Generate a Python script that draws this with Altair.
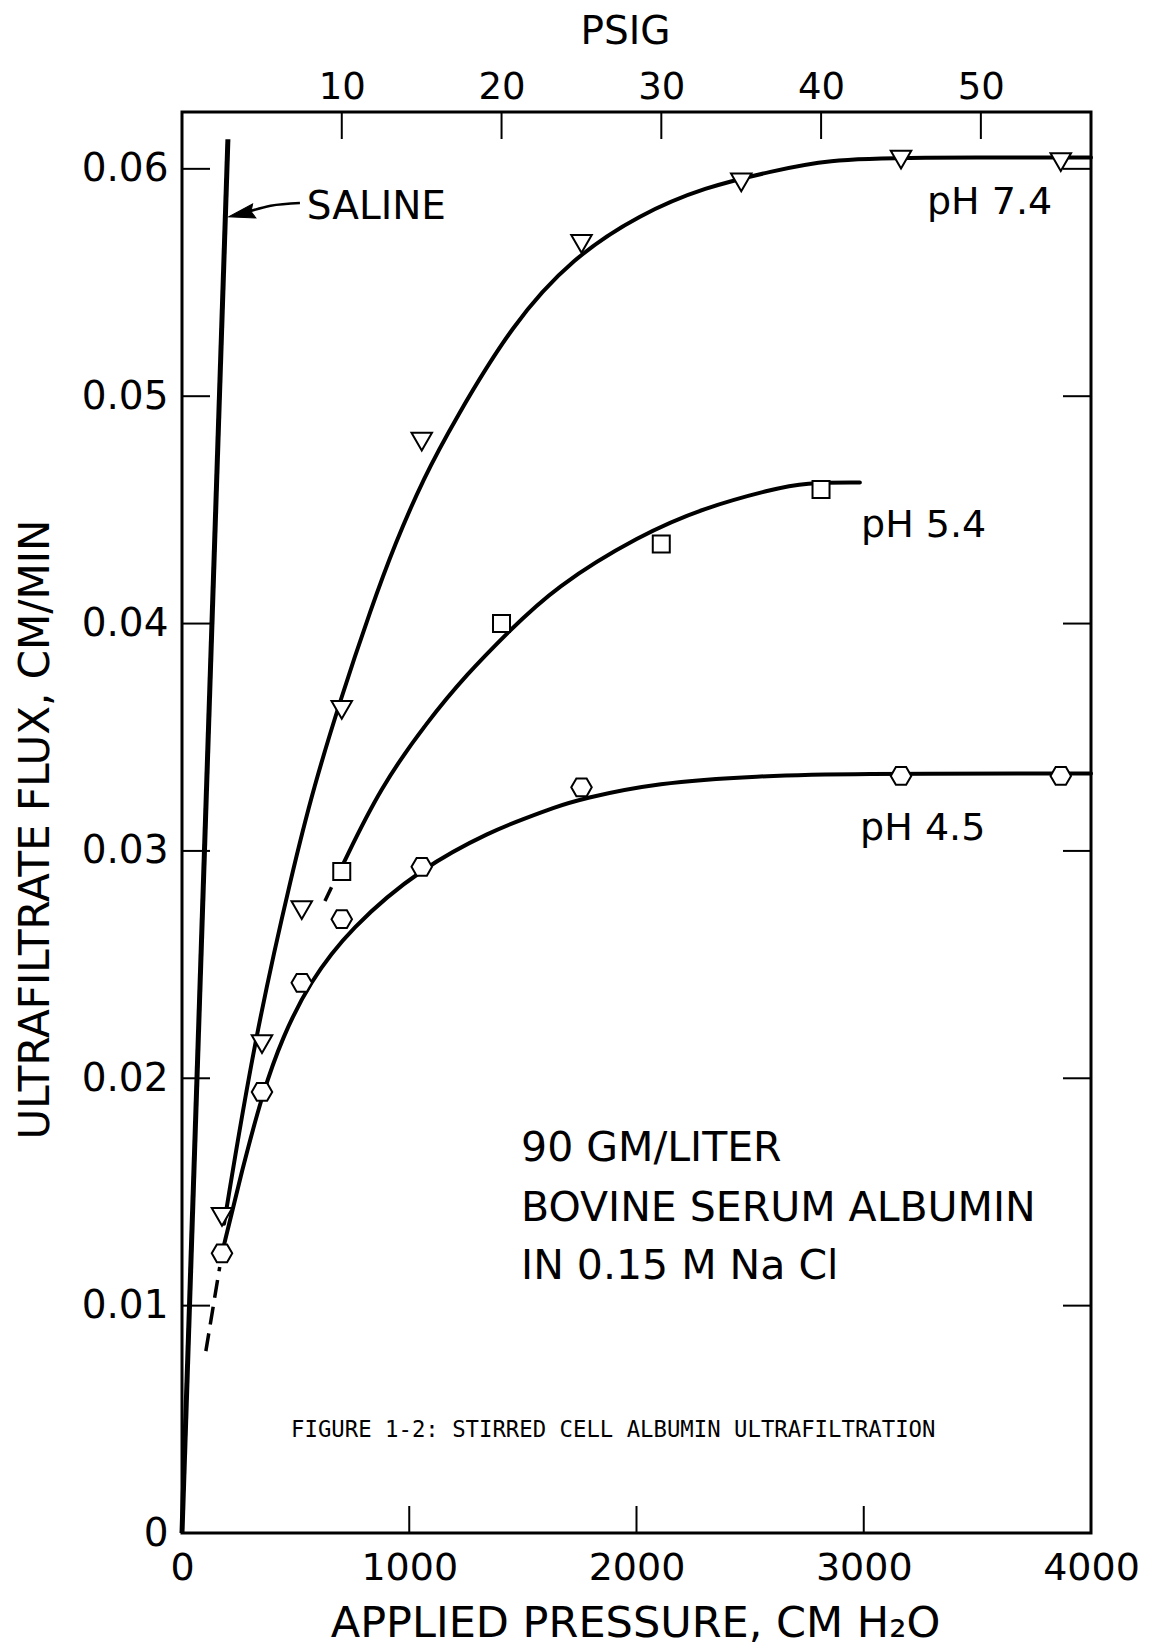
import altair as alt
import pandas as pd

PSI_TO_CM = 70.307  # 1 psi in cm of water (unit conversion for the top axis)

# ---------------- measured points (pressure cm H2O, flux cm/min) ----------------
ph74_x = [176, 352, 527, 703, 1055, 1758, 2461, 3164, 3867]
ph74_y = [0.0139, 0.0215, 0.0274, 0.0362, 0.0480, 0.0567, 0.0594, 0.0604, 0.0603]

ph54_x = [703, 1406, 2109, 2812]
ph54_y = [0.0291, 0.0400, 0.0435, 0.0459]

ph45_x = [176, 352, 527, 703, 1055, 1758, 3164, 3867]
ph45_y = [0.0123, 0.0194, 0.0242, 0.0270, 0.0293, 0.0328, 0.0333, 0.0333]

# ---------------- hand-drawn curves ----------------
c74_x = [185, 318, 490, 580, 692, 833, 937, 1063, 1197, 1455, 1720, 2015, 2300, 2600, 2836, 3200, 4000]
c74_y = [0.0136, 0.0217, 0.0293, 0.0328, 0.0365, 0.0407, 0.0435, 0.0464, 0.0489, 0.0532, 0.0561,
         0.0580, 0.0592, 0.0599, 0.0604, 0.0605, 0.0605]

c54_x = [703, 873, 1080, 1256, 1433, 1640, 2016, 2300, 2594, 2741, 2983]
c54_y = [0.0293, 0.0328, 0.0357, 0.0378, 0.0396, 0.0416, 0.0439, 0.0451, 0.0459, 0.0462, 0.0462]

c45_x = [176, 265, 356, 442, 560, 739, 1058, 1370, 1502, 1634, 1759, 2089, 2529, 2968, 3770, 4000]
c45_y = [0.0123, 0.0160, 0.0194, 0.0218, 0.0242, 0.0266, 0.0293, 0.0309, 0.0314, 0.0319, 0.0323,
         0.0330, 0.0333, 0.0334, 0.0334, 0.0334]

saline_x = [0, 202]
saline_y = [0.0, 0.0613]

# dashed extrapolations
dash45_x = [166, 105]
dash45_y = [0.0117, 0.0080]
dash54_x = [629, 658]
dash54_y = [0.0278, 0.0284]

# axis ticks
x_ticks = [1000, 2000, 3000]
x_labels = [0, 1000, 2000, 3000, 4000]
y_ticks = [0.01, 0.02, 0.03, 0.04, 0.05, 0.06]
y_labels = [0, 0.01, 0.02, 0.03, 0.04, 0.05, 0.06]
psig_ticks = [10, 20, 30, 40, 50]

# annotations
ph_lab_text = ["pH 7.4", "pH 5.4", "pH 4.5"]
ph_lab_x = [3278, 2988, 2984]
ph_lab_y = [0.0580, 0.0438, 0.0305]

saline_lab = ["SALINE"]
saline_lab_x = [549]
saline_lab_y = [0.0578]

block_text = ["90 GM/LITER", "BOVINE SERUM ALBUMIN", "IN 0.15 M Na Cl"]
block_x = [1492, 1492, 1492]
block_y = [0.01638, 0.01374, 0.01115]

caption_text = ["FIGURE 1-2: STIRRED CELL ALBUMIN ULTRAFILTRATION"]
caption_x = [480]
caption_y = [0.00424]

arrow_x = [519, 390, 262]
arrow_y = [0.05850, 0.05838, 0.05802]
arrow_head_x = [262]
arrow_head_y = [0.05802]

# ---------------- build tables ----------------
def pts(xs, ys, name):
    return pd.DataFrame({"x": xs, "y": ys, "s": name})

curves = pd.concat([pts(c74_x, c74_y, "pH 7.4"), pts(c54_x, c54_y, "pH 5.4"), pts(c45_x, c45_y, "pH 4.5")])
dashes = pd.concat([pts(dash45_x, dash45_y, "d45"), pts(dash54_x, dash54_y, "d54")])
saline = pts(saline_x, saline_y, "saline")

FONT = "DejaVu Sans"
W, H = 909, 1421

xs = alt.Scale(domain=[0, 4000], nice=False, zero=False)
ys = alt.Scale(domain=[0, 0.0625], nice=False, zero=False)

xaxis = alt.Axis(
    title="APPLIED PRESSURE, CM H₂O", values=x_labels, format="d",
    ticks=False, tickSize=0, domain=False, grid=False,
    labelFont=FONT, labelFontSize=38, labelColor="black", labelPadding=46,
    labelBaseline="alphabetic", labelFlush=False, labelOverlap=False,
    titleFont=FONT, titleFontSize=43, titleFontWeight="normal", titleColor="black",
    titleX=453, titleY=103, titleBaseline="alphabetic", titleAlign="center",
)
yaxis = alt.Axis(
    title="ULTRAFILTRATE FLUX, CM/MIN", values=y_labels,
    labelExpr="datum.value == 0 ? '0' : format(datum.value, '.2f')",
    ticks=False, tickSize=0, domain=False, grid=False,
    labelFont=FONT, labelFontSize=39, labelColor="black", labelPadding=14,
    labelFlush=False, labelOverlap=False,
    titleFont=FONT, titleFontSize=42, titleFontWeight="normal", titleColor="black",
    titleX=-134, titleY=717, titleAngle=270, titleBaseline="alphabetic", titleAlign="center",
)

X = lambda f="x": alt.X(f"{f}:Q", scale=xs, axis=xaxis)
Y = lambda f="y": alt.Y(f"{f}:Q", scale=ys, axis=yaxis)

curve_layer = alt.Chart(curves).mark_line(
    interpolate="basis", strokeWidth=4, color="black", strokeCap="round"
).encode(x=X(), y=Y(), detail="s:N")

dash_layer = alt.Chart(dashes).mark_line(
    strokeWidth=3.5, color="black", strokeDash=[18, 9]
).encode(x=X(), y=Y(), detail="s:N")

saline_layer = alt.Chart(saline).mark_line(strokeWidth=5, color="black").encode(x=X(), y=Y())

HEX = "M-1,0L-0.5,-0.866L0.5,-0.866L1,0L0.5,0.866L-0.5,0.866Z"

def marker(df, shape, size):
    return alt.Chart(df).mark_point(
        shape=shape, size=size, filled=True, fill="white", stroke="black",
        strokeWidth=2, opacity=1, fillOpacity=1, strokeOpacity=1
    ).encode(x=X(), y=Y())

m74 = marker(pts(ph74_x, ph74_y, "pH 7.4"), "triangle-down", 420)
m54 = marker(pts(ph54_x, ph54_y, "pH 5.4"), "square", 289)
m45 = marker(pts(ph45_x, ph45_y, "pH 4.5"), HEX, 420)

# inward ticks
yt = pd.DataFrame({"v": y_ticks})
xt = pd.DataFrame({"v": x_ticks})
left_ticks = alt.Chart(yt).mark_rule(strokeWidth=2, color="black").encode(
    y=Y("v"), x=alt.value(0), x2=alt.value(28))
right_ticks = alt.Chart(yt).mark_rule(strokeWidth=2, color="black").encode(
    y=Y("v"), x=alt.value(W - 28), x2=alt.value(W))
bottom_ticks = alt.Chart(xt).mark_rule(strokeWidth=2, color="black").encode(
    x=X("v"), y=alt.value(H - 27), y2=alt.value(H))

# annotations
def text_layer(texts, txs, tys, size, font=FONT):
    df = pd.DataFrame({"x": txs, "y": tys, "t": texts})
    return alt.Chart(df).mark_text(
        align="left", baseline="alphabetic", font=font, fontSize=size, color="black"
    ).encode(x=X(), y=Y(), text="t:N")

ph_labels = text_layer(ph_lab_text, ph_lab_x, ph_lab_y, 38)
saline_text = text_layer(saline_lab, saline_lab_x, saline_lab_y, 39)
block = text_layer(block_text, block_x, block_y, 41)
caption = text_layer(caption_text, caption_x, caption_y, 22.3, font="DejaVu Sans Mono")

arrow_line = alt.Chart(pd.DataFrame({"x": arrow_x, "y": arrow_y})).mark_line(
    strokeWidth=2.5, color="black", interpolate="monotone").encode(x=X(), y=Y())
arrow_head = alt.Chart(pd.DataFrame({"x": arrow_head_x, "y": arrow_head_y})).mark_point(
    shape="M-1,0L1,-0.55L0.75,0L1,0.55Z", size=676, angle=347, filled=True,
    fill="black", stroke="black", strokeWidth=1, opacity=1
).encode(x=X(), y=Y())

inner = alt.layer(
    saline_layer, curve_layer, dash_layer, m74, m54, m45,
    left_ticks, right_ticks, bottom_ticks,
    ph_labels, saline_text, block, caption, arrow_line, arrow_head,
)

# top PSIG axis
ps = alt.Scale(domain=[0, 4000 / PSI_TO_CM], nice=False, zero=False)
top_axis = alt.Axis(
    orient="top", title="PSIG", values=psig_ticks, format="d",
    ticks=False, tickSize=0, domain=False, grid=False,
    labelFont=FONT, labelFontSize=37, labelColor="black", labelPadding=14,
    labelBaseline="alphabetic", labelFlush=False, labelOverlap=False,
    titleFont=FONT, titleFontSize=39, titleFontWeight="normal", titleColor="black",
    titleX=443, titleY=-69, titleBaseline="alphabetic", titleAlign="center",
)
top_ticks = alt.Chart(pd.DataFrame({"p": psig_ticks})).mark_rule(strokeWidth=2, color="black").encode(
    x=alt.X("p:Q", scale=ps, axis=top_axis), y=alt.value(0), y2=alt.value(27))

chart = alt.layer(inner, top_ticks).resolve_scale(x="independent").properties(
    width=W, height=H,
    autosize=alt.AutoSizeParams(type="none"),
    padding={"left": 182, "top": 112, "right": 58, "bottom": 117},
    background="white",
).configure_view(stroke="black", strokeWidth=3)

chart.save("out.html", embed_options={"renderer": "svg", "actions": False})
